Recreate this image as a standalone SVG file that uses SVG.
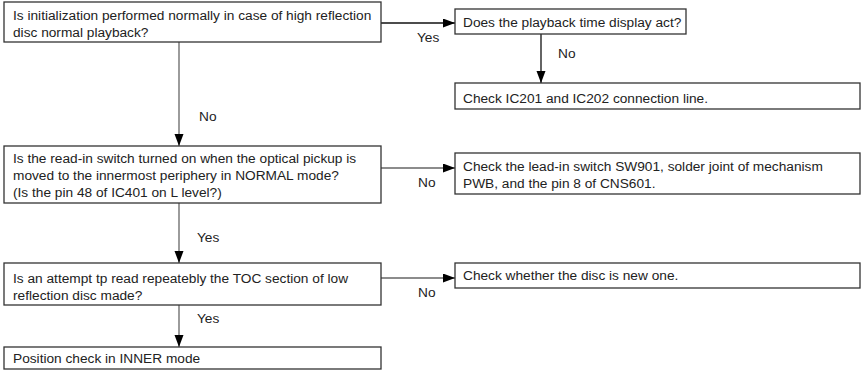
<svg xmlns="http://www.w3.org/2000/svg" width="862" height="371" viewBox="0 0 862 371">
<style>
.box{fill:#fff;stroke:#333;stroke-width:1.3}
.t{font-family:"Liberation Sans",Arial,sans-serif;font-size:13.7px;fill:#222}
.c{fill:none;stroke:#666;stroke-width:1.3}
.cd{fill:none;stroke:#111;stroke-width:1.3}
</style>
<defs>
<marker id="ah" markerUnits="userSpaceOnUse" markerWidth="13" markerHeight="10" refX="12" refY="4.5" orient="auto">
<path d="M0,0 L12,4.5 L0,9 z" fill="#000"/>
</marker>
</defs>
<rect width="862" height="371" fill="#fff"/>
<g id="connectors">
<line class="cd" x1="381" y1="23" x2="455" y2="23" marker-end="url(#ah)"/>
<line class="cd" x1="541" y1="34" x2="541" y2="83" marker-end="url(#ah)"/>
<line class="c" x1="179" y1="42" x2="179" y2="146" marker-end="url(#ah)"/>
<line class="c" x1="381" y1="168" x2="455" y2="168" marker-end="url(#ah)"/>
<line class="c" x1="179" y1="203" x2="179" y2="263" marker-end="url(#ah)"/>
<line class="c" x1="381" y1="278" x2="455" y2="278" marker-end="url(#ah)"/>
<line class="c" x1="179" y1="305" x2="179" y2="347" marker-end="url(#ah)"/>
<text class="t" x="417" y="42">Yes</text>
<text class="t" x="558" y="58">No</text>
<text class="t" x="199" y="121">No</text>
<text class="t" x="418" y="187">No</text>
<text class="t" x="197" y="242">Yes</text>
<text class="t" x="418" y="297">No</text>
<text class="t" x="197" y="323">Yes</text>
</g>
<g id="n1">
<rect class="box" x="4" y="2" width="377" height="40"/>
<text class="t" x="13" y="20">Is initialization performed normally in case of high reflection</text>
<text class="t" x="13" y="37">disc normal playback?</text>
</g>
<g id="n2">
<rect class="box" x="455" y="9" width="231" height="25"/>
<text class="t" x="463" y="27">Does the playback time display act?</text>
</g>
<g id="n3">
<rect class="box" x="455" y="83" width="405" height="26"/>
<text class="t" x="463" y="103">Check IC201 and IC202 connection line.</text>
</g>
<g id="n4">
<rect class="box" x="4" y="146" width="377" height="57"/>
<text class="t" x="13" y="163">Is the read-in switch turned on when the optical pickup is</text>
<text class="t" x="13" y="180">moved to the innermost periphery in NORMAL mode?</text>
<text class="t" x="13" y="197">(Is the pin 48 of IC401 on L level?)</text>
</g>
<g id="n5">
<rect class="box" x="455" y="153" width="405" height="41"/>
<text class="t" x="463" y="171">Check the lead-in switch SW901, solder joint of mechanism</text>
<text class="t" x="463" y="188">PWB, and the pin 8 of CNS601.</text>
</g>
<g id="n6">
<rect class="box" x="4" y="263" width="377" height="42"/>
<text class="t" x="13" y="283">Is an attempt tp read repeatebly the TOC section of low</text>
<text class="t" x="13" y="300">reflection disc made?</text>
</g>
<g id="n7">
<rect class="box" x="455" y="263" width="405" height="25"/>
<text class="t" x="463" y="280">Check whether the disc is new one.</text>
</g>
<g id="n8">
<rect class="box" x="4" y="347" width="377" height="22"/>
<text class="t" x="13" y="363">Position check in INNER mode</text>
</g>
</svg>
